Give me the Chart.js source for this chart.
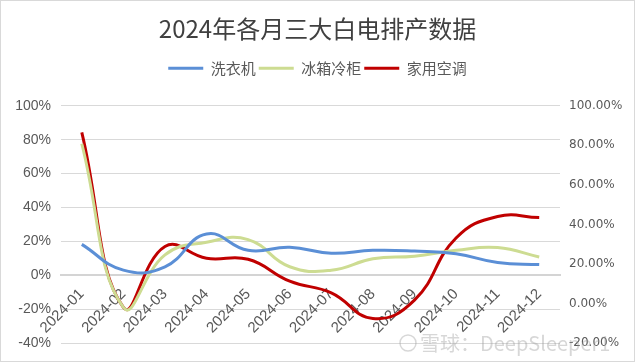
<!DOCTYPE html>
<html>
<head>
<meta charset="utf-8">
<script src="https://cdn.jsdelivr.net/npm/chart.js@4/dist/chart.umd.min.js"></script>
<style>
    body { margin: 0; background: #fff; }
    #chart-container { width: 635px; height: 362px; }
</style>
</head>
<body>
<div id="chart-container"><canvas id="chart"></canvas></div>
<script>
const months = ['2024-01', '2024-02', '2024-03', '2024-04', '2024-05', '2024-06',
    '2024-07', '2024-08', '2024-09', '2024-10', '2024-11', '2024-12'];
const washerValues = [18.2, 3, 5, 24.3, 14.7, 16.5, 13, 14.7, 14.3, 12.7, 7.5, 6.3];
const fridgeValues = [77.6, -19, 12, 19.5, 21, 5, 3, 9.7, 11.2, 14.7, 16.3, 10.8];
const acValues = [84.3, -19, 17, 10, 9.4, -3.5, -10.4, -25.5, -14.7, 22, 34.7, 34];
const seriesNames = ['洗衣机', '冰箱冷柜', '家用空调'];
const chartTitle = '2024年各月三大白电排产数据';
const watermarkText = '雪球：DeepSleeper1';

const colors = ['#5b8fd6', '#cddc92', '#c00000'];
const cjkFont = '"Noto Sans CJK SC", "Noto Sans", sans-serif';
const labelColor = '#595959';

//extra room under the legend, chart.js has no option for it
const legendMargin = {
    id: 'legendMargin',
    beforeInit(chart) {
        const fit = chart.legend.fit;
        chart.legend.fit = function () {
            fit.bind(chart.legend)();
            this.height += 20;
        };
    }
};

//outer frame + watermark
const frame = {
    id: 'frame',
    afterDraw(chart) {
        const {ctx, width, height} = chart;
        ctx.save();
        ctx.strokeStyle = '#d9d9d9';
        ctx.lineWidth = 1;
        ctx.strokeRect(0.5, 0.5, width - 1, height - 1);

        ctx.globalAlpha = 0.4;
        ctx.strokeStyle = '#9a9a9a';
        ctx.lineWidth = 1.5;
        ctx.beginPath();
        ctx.arc(408, 343, 8, 0, Math.PI * 2);
        ctx.stroke();
        ctx.fillStyle = '#9a9a9a';
        ctx.font = '20px ' + cjkFont;
        ctx.textBaseline = 'middle';
        ctx.fillText(watermarkText, 420, 343);
        ctx.restore();
    }
};

const datasets = [washerValues, fridgeValues, acValues].map((values, i) => {
    return {
        label: seriesNames[i],
        data: values,
        borderColor: colors[i],
        backgroundColor: colors[i],
        borderWidth: 3,
        pointRadius: 0,
        pointHoverRadius: 0,
        tension: 0.45,
        yAxisID: 'y'
    }
});

const ctx = document.getElementById('chart').getContext('2d');
const chart = new Chart(ctx, {
    type: 'line',
    data: {
        labels: months,
        datasets: datasets
    },
    options: {
        responsive: true,
        maintainAspectRatio: false,
        animation: false,
        layout: {
            padding: {top: 8, bottom: 19, left: 0, right: 0}
        },
        plugins: {
            tooltip: {enabled: false},
            title: {
                display: true,
                text: chartTitle,
                color: '#404040',
                font: {family: cjkFont, size: 24, weight: 'normal'},
                padding: {top: 6, bottom: 15}
            },
            legend: {
                labels: {
                    usePointStyle: true,
                    pointStyle: 'line',
                    pointStyleWidth: 35,
                    boxHeight: 15,
                    padding: 3,
                    color: labelColor,
                    font: {family: cjkFont, size: 15}
                }
            }
        },
        scales: {
            x: {
                position: {y: 0},
                offset: true,
                grid: {display: false, drawTicks: false},
                border: {display: true, color: '#d4d4d4', width: 2},
                ticks: {
                    minRotation: 45,
                    maxRotation: 45,
                    autoSkip: false,
                    padding: 10,
                    color: labelColor,
                    font: {family: '"Liberation Sans", Arial, sans-serif', size: 15}
                }
            },
            y: {
                position: 'left',
                min: -40,
                max: 100,
                grid: {color: '#d9d9d9', drawTicks: false},
                border: {display: false},
                ticks: {
                    stepSize: 20,
                    padding: 10,
                    color: labelColor,
                    font: {family: '"Liberation Sans", Arial, sans-serif', size: 14},
                    callback: (v) => v + '%'
                },
                afterFit: (scale) => { scale.width = 61; }
            },
            y1: {
                position: 'right',
                min: -20,
                max: 100,
                grid: {display: false, drawTicks: false},
                border: {display: false},
                ticks: {
                    stepSize: 20,
                    padding: 9,
                    color: labelColor,
                    font: {family: '"DejaVu Sans", sans-serif', size: 12},
                    callback: (v) => v.toFixed(2) + '%'
                },
                afterFit: (scale) => { scale.width = 75; }
            }
        }
    },
    plugins: [legendMargin, frame]
});
</script>
</body>
</html>
